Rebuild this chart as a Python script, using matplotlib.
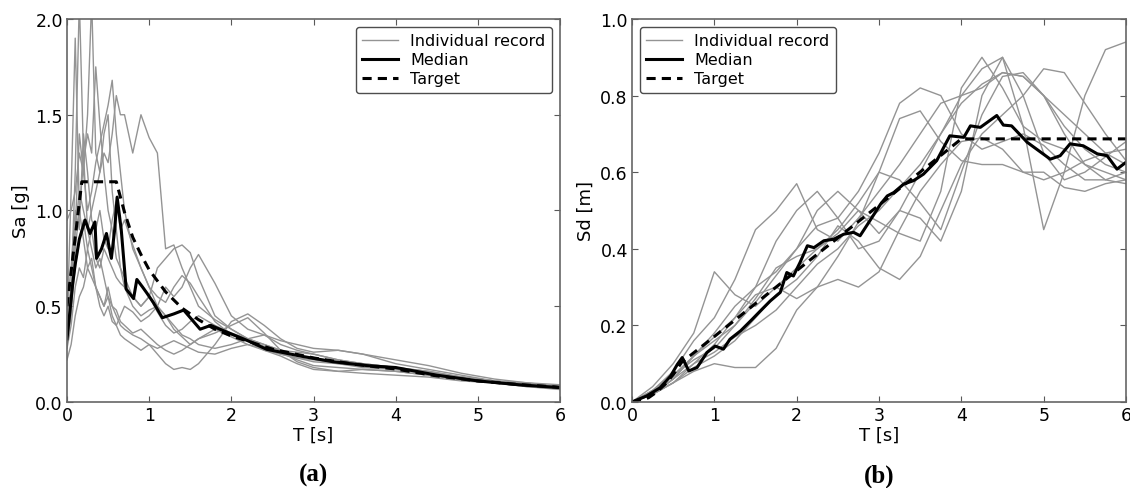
import matplotlib
matplotlib.use("Agg")
import matplotlib.pyplot as plt

# ---- (a) spectral acceleration -------------------------------------------
T_SA = [0, 0.05, 0.1, 0.15, 0.2, 0.25, 0.3, 0.35, 0.4, 0.45, 0.5, 0.55, 0.6,
        0.65, 0.7, 0.8, 0.9, 1.0, 1.1, 1.2, 1.3, 1.4, 1.5, 1.6, 1.8, 2.0, 2.2,
        2.4, 2.6, 2.8, 3.0, 3.3, 3.6, 4.0, 4.4, 4.8, 5.2, 5.6, 6.0]

SA_RECORDS = [
    [0.4, 1.1, 1.9, 1.0, 0.85, 0.7, 0.75, 0.6, 0.55, 0.5, 0.6, 0.5, 0.45, 0.4,
     0.38, 0.35, 0.33, 0.3, 0.28, 0.3, 0.32, 0.3, 0.28, 0.26, 0.25, 0.28, 0.3,
     0.27, 0.25, 0.23, 0.21, 0.2, 0.18, 0.17, 0.15, 0.13, 0.11, 0.09, 0.08],
    [0.3, 0.6, 1.2, 2.1, 1.3, 0.9, 0.8, 0.7, 0.75, 0.65, 0.55, 0.5, 0.48, 0.42,
     0.4, 0.36, 0.38, 0.34, 0.3, 0.27, 0.25, 0.27, 0.3, 0.33, 0.36, 0.4, 0.44,
     0.36, 0.27, 0.21, 0.18, 0.16, 0.15, 0.14, 0.13, 0.11, 0.1, 0.08, 0.07],
    [0.35, 0.55, 0.9, 1.4, 1.2, 1.5, 2.1, 1.3, 1.2, 1.4, 1.5, 1.1, 0.9, 0.7,
     0.6, 0.5, 0.45, 0.48, 0.5, 0.45, 0.38, 0.34, 0.3, 0.33, 0.38, 0.34, 0.3,
     0.28, 0.25, 0.23, 0.22, 0.2, 0.19, 0.17, 0.15, 0.13, 0.11, 0.09, 0.075],
    [0.3, 0.45, 0.8, 1.0, 1.25, 1.4, 1.3, 1.75, 1.45, 1.2, 1.0, 0.9, 0.75, 0.7,
     0.65, 0.55, 0.5, 0.55, 0.47, 0.4, 0.36, 0.38, 0.42, 0.45, 0.4, 0.36, 0.33,
     0.3, 0.27, 0.24, 0.23, 0.21, 0.2, 0.18, 0.15, 0.12, 0.1, 0.085, 0.07],
    [0.95, 1.0, 1.1, 1.3, 1.2, 1.0, 1.1, 1.25, 1.35, 1.45, 1.55, 1.68, 1.4, 1.2,
     1.0, 0.8, 0.7, 0.6, 0.55, 0.52, 0.6, 0.66, 0.62, 0.55, 0.42, 0.35, 0.32,
     0.27, 0.24, 0.2, 0.17, 0.16, 0.17, 0.16, 0.14, 0.12, 0.1, 0.09, 0.08],
    [0.45, 0.6, 0.9, 1.1, 1.0, 0.9, 1.0, 1.1, 1.2, 1.3, 1.25, 1.4, 1.6, 1.5,
     1.5, 1.3, 1.5, 1.38, 1.3, 0.8, 0.82, 0.7, 0.6, 0.5, 0.43, 0.38, 0.33, 0.3,
     0.27, 0.26, 0.25, 0.22, 0.2, 0.18, 0.16, 0.13, 0.11, 0.09, 0.075],
    [0.22, 0.3, 0.45, 0.55, 0.6, 0.7, 0.65, 0.6, 0.55, 0.5, 0.55, 0.45, 0.4,
     0.35, 0.33, 0.3, 0.27, 0.3, 0.25, 0.2, 0.17, 0.18, 0.17, 0.2, 0.3, 0.42,
     0.46, 0.4, 0.33, 0.28, 0.26, 0.27, 0.25, 0.2, 0.17, 0.14, 0.11, 0.09, 0.07],
    [0.3, 0.5, 0.7, 0.85, 0.95, 0.8, 0.9, 0.75, 0.7, 0.8, 0.75, 0.7, 0.65, 0.62,
     0.6, 0.55, 0.5, 0.55, 0.7, 0.75, 0.8, 0.82, 0.78, 0.65, 0.45, 0.38, 0.33,
     0.29, 0.26, 0.22, 0.19, 0.18, 0.17, 0.16, 0.14, 0.12, 0.1, 0.08, 0.065],
    [0.28, 0.4, 0.6, 0.7, 0.65, 0.8, 0.7, 0.6, 0.5, 0.45, 0.5, 0.42, 0.4, 0.45,
     0.5, 0.47, 0.42, 0.45, 0.5, 0.6, 0.55, 0.6, 0.7, 0.77, 0.62, 0.45, 0.38,
     0.35, 0.32, 0.3, 0.28, 0.27, 0.25, 0.22, 0.19, 0.15, 0.12, 0.1, 0.09],
    [0.5, 0.7, 1.0, 0.9, 1.4, 1.2, 0.95, 0.9, 1.0, 0.85, 0.8, 0.95, 1.05, 0.9,
     0.95, 0.82, 0.7, 0.6, 0.5, 0.45, 0.4, 0.35, 0.33, 0.3, 0.28, 0.3, 0.33,
     0.35, 0.3, 0.27, 0.25, 0.22, 0.2, 0.18, 0.16, 0.13, 0.11, 0.1, 0.08],
]

T_SA_MED = [0, 0.03, 0.07, 0.1, 0.15, 0.22, 0.28, 0.34, 0.36, 0.42, 0.48, 0.54,
            0.58, 0.61, 0.66, 0.72, 0.81, 0.85, 0.92, 0.97, 1.05, 1.16, 1.3,
            1.42, 1.52, 1.62, 1.75, 1.86, 2.03, 2.2, 2.43, 2.84, 3.24, 3.65,
            4.0, 4.5, 5.0, 5.5, 6.0]
SA_MEDIAN = [0.33, 0.45, 0.62, 0.72, 0.85, 0.95, 0.88, 0.94, 0.75, 0.8, 0.88,
             0.75, 0.9, 1.07, 0.9, 0.59, 0.54, 0.64, 0.6, 0.57, 0.52, 0.44,
             0.46, 0.48, 0.43, 0.38, 0.4, 0.38, 0.35, 0.32, 0.275, 0.24, 0.21,
             0.19, 0.18, 0.14, 0.11, 0.09, 0.075]

T_SA_TARGET = [0, 0.18, 0.6, 0.7, 0.8, 0.9, 1.0, 1.2, 1.4, 1.6, 1.8, 2.0, 2.5,
               3.0, 3.5, 4.0, 4.5, 5.0, 5.5, 6.0]
SA_TARGET = [0.5, 1.15, 1.15, 0.99, 0.86, 0.77, 0.69, 0.575, 0.49, 0.43, 0.38,
             0.345, 0.276, 0.23, 0.197, 0.172, 0.136, 0.11, 0.091, 0.077]

# ---- (b) spectral displacement -------------------------------------------
T_SD = [0, 0.25, 0.5, 0.75, 1.0, 1.25, 1.5, 1.75, 2.0, 2.25, 2.5, 2.75, 3.0,
        3.25, 3.5, 3.75, 4.0, 4.25, 4.5, 4.75, 5.0, 5.25, 5.5, 5.75, 6.0]

SD_RECORDS = [
    [0, 0.02, 0.06, 0.1, 0.13, 0.17, 0.2, 0.24, 0.3, 0.36, 0.4, 0.46, 0.5,
     0.56, 0.62, 0.7, 0.8, 0.87, 0.9, 0.72, 0.45, 0.6, 0.8, 0.92, 0.94],
    [0, 0.03, 0.08, 0.16, 0.22, 0.32, 0.45, 0.5, 0.57, 0.45, 0.42, 0.48, 0.55,
     0.62, 0.7, 0.78, 0.8, 0.82, 0.86, 0.85, 0.8, 0.72, 0.66, 0.62, 0.6],
    [0, 0.04, 0.1, 0.18, 0.34, 0.28, 0.25, 0.3, 0.35, 0.4, 0.45, 0.52, 0.6,
     0.58, 0.52, 0.45, 0.6, 0.75, 0.85, 0.86, 0.8, 0.7, 0.62, 0.6, 0.58],
    [0, 0.02, 0.05, 0.08, 0.1, 0.09, 0.09, 0.14, 0.24, 0.3, 0.32, 0.3, 0.34,
     0.45, 0.55, 0.62, 0.68, 0.69, 0.66, 0.6, 0.58, 0.6, 0.63, 0.65, 0.66],
    [0, 0.03, 0.07, 0.12, 0.17, 0.22, 0.3, 0.42, 0.5, 0.55, 0.48, 0.4, 0.42,
     0.5, 0.48, 0.42, 0.55, 0.8, 0.9, 0.8, 0.65, 0.58, 0.6, 0.64, 0.68],
    [0, 0.02, 0.06, 0.12, 0.16, 0.2, 0.26, 0.33, 0.4, 0.46, 0.48, 0.55, 0.65,
     0.78, 0.82, 0.8, 0.7, 0.66, 0.68, 0.7, 0.67, 0.62, 0.58, 0.58, 0.6],
    [0, 0.02, 0.05, 0.1, 0.15, 0.22, 0.28, 0.3, 0.27, 0.3, 0.38, 0.47, 0.6,
     0.74, 0.76, 0.68, 0.63, 0.62, 0.62, 0.6, 0.6, 0.56, 0.55, 0.57, 0.58],
    [0, 0.03, 0.07, 0.11, 0.14, 0.2, 0.27, 0.35, 0.38, 0.4, 0.44, 0.5, 0.47,
     0.44, 0.42, 0.55, 0.82, 0.9, 0.82, 0.72, 0.68, 0.66, 0.62, 0.58, 0.57],
    [0, 0.02, 0.06, 0.12, 0.18, 0.25, 0.3, 0.34, 0.4, 0.5, 0.55, 0.5, 0.44,
     0.5, 0.6, 0.7, 0.78, 0.83, 0.86, 0.85, 0.8, 0.75, 0.7, 0.65, 0.62],
    [0, 0.02, 0.05, 0.09, 0.12, 0.16, 0.22, 0.28, 0.32, 0.38, 0.46, 0.42, 0.35,
     0.32, 0.38, 0.5, 0.62, 0.7, 0.75, 0.8, 0.87, 0.86, 0.78, 0.7, 0.63],
]

T_SD_MED = [0, 0.18, 0.34, 0.47, 0.55, 0.61, 0.69, 0.79, 0.91, 1.01, 1.11,
            1.19, 1.32, 1.46, 1.56, 1.68, 1.8, 1.88, 1.96, 2.04, 2.13, 2.21,
            2.33, 2.45, 2.57, 2.69, 2.77, 2.9, 3.02, 3.1, 3.18, 3.3, 3.42,
            3.54, 3.7, 3.86, 4.03, 4.11, 4.23, 4.43, 4.51, 4.61, 4.8, 5.08,
            5.2, 5.32, 5.48, 5.65, 5.77, 5.89, 6.0]
SD_MEDIAN = [0, 0.016, 0.037, 0.068, 0.098, 0.116, 0.081, 0.09, 0.129, 0.146,
             0.138, 0.164, 0.186, 0.216, 0.238, 0.264, 0.286, 0.338, 0.329,
             0.364, 0.408, 0.403, 0.421, 0.425, 0.438, 0.443, 0.434, 0.477,
             0.517, 0.538, 0.547, 0.569, 0.578, 0.595, 0.63, 0.695, 0.691,
             0.721, 0.717, 0.748, 0.723, 0.721, 0.678, 0.634, 0.643, 0.674,
             0.669, 0.648, 0.643, 0.608, 0.626]

T_SD_TARGET = [0, 0.2, 0.3, 0.4, 0.5, 0.6, 1.0, 2.0, 3.0, 4.0, 6.0]
SD_TARGET = [0, 0.011, 0.026, 0.046, 0.071, 0.103, 0.171, 0.343, 0.514,
             0.687, 0.687]

GREY = "0.58"


def style_axes(ax, ylim, yticks, ylabel):
    ax.set_xlim(0, 6)
    ax.set_ylim(*ylim)
    ax.set_xticks(range(7))
    ax.set_yticks(yticks)
    ax.set_yticklabels([f"{v:.1f}" for v in yticks])
    ax.tick_params(direction="in", top=True, right=True, length=4,
                   labelsize=12.5, color="0.35", pad=3)
    for s in ax.spines.values():
        s.set_color("0.4")
        s.set_linewidth(1.2)
    ax.set_xlabel("T [s]", fontsize=13, labelpad=1)
    ax.set_ylabel("%s" % ylabel, fontsize=13, labelpad=4)


def draw_panel(ax, t_rec, records, t_med, median, t_tgt, target, loc):
    for i, rec in enumerate(records):
        ax.plot(t_rec, rec, color=GREY, lw=1.0,
                label="Individual record" if i == 0 else None)
    ax.plot(t_med, median, color="black", lw=2.2, label="Median")
    ax.plot(t_tgt, target, color="black", lw=2.2, ls=(0, (3, 2)),
            label="Target")
    leg = ax.legend(loc=loc, fontsize=11.5, fancybox=True, handlelength=2.2,
                    borderaxespad=0.5, labelspacing=0.25, framealpha=1)
    leg.get_frame().set_edgecolor("0.3")


fig = plt.figure(figsize=(11.3, 4.89), dpi=100)
ax_a = fig.add_axes([0.0593, 0.1759, 0.4363, 0.7832])
ax_b = fig.add_axes([0.5593, 0.1759, 0.4372, 0.7832])

draw_panel(ax_a, T_SA, SA_RECORDS, T_SA_MED, SA_MEDIAN, T_SA_TARGET,
           SA_TARGET, "upper right")
style_axes(ax_a, (0, 2.0), [0.0, 0.5, 1.0, 1.5, 2.0], "Sa [g]")

draw_panel(ax_b, T_SD, SD_RECORDS, T_SD_MED, SD_MEDIAN, T_SD_TARGET,
           SD_TARGET, "upper left")
style_axes(ax_b, (0, 1.0), [0.0, 0.2, 0.4, 0.6, 0.8, 1.0], "Sd [m]")

for ax, tag in [(ax_a, "(a)"), (ax_b, "(b)")]:
    box = ax.get_position()
    fig.text((box.x0 + box.x1) / 2, 0.027, tag, ha="center", va="center",
             fontsize=18, fontweight="bold", family="Liberation Serif")

fig.savefig("out.png", dpi=100)
